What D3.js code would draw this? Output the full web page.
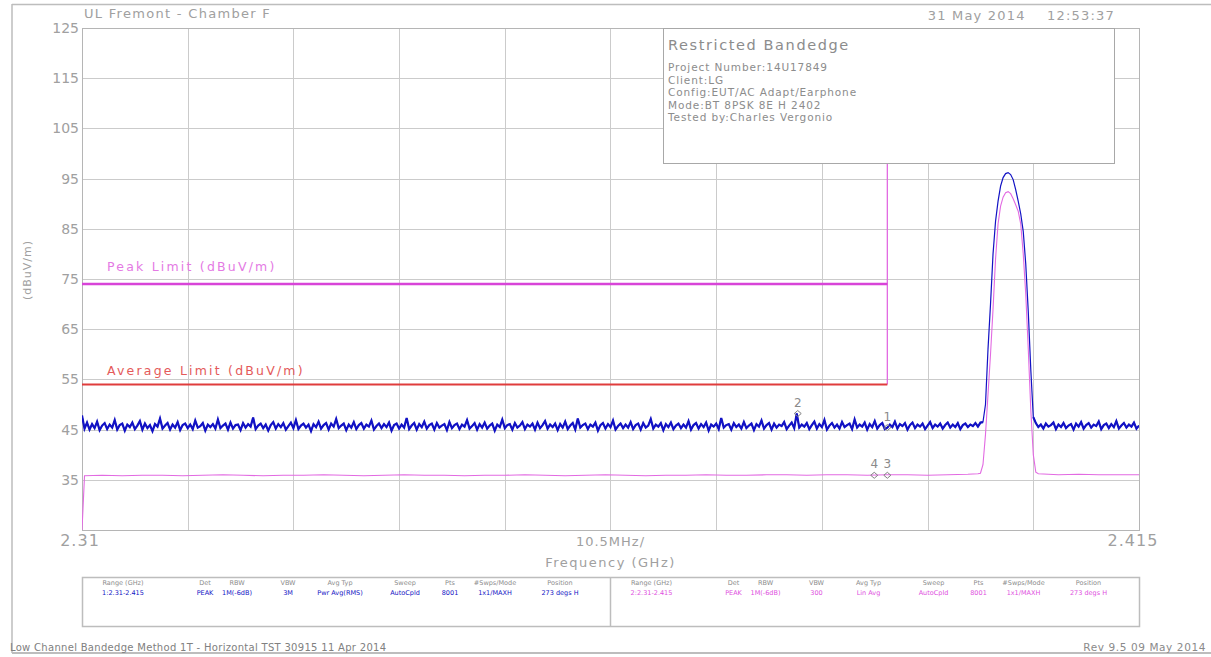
<!DOCTYPE html>
<html><head><meta charset="utf-8">
<script src="https://cdn.jsdelivr.net/npm/d3@7"></script>
<style>body{margin:0;background:#fff;overflow:hidden} text{font-family:"DejaVu Sans",sans-serif}</style>
</head><body><svg id="c" width="1211" height="657"></svg>
<script>
// ---------- data ----------
const fStart = 2.31, fStop = 2.415, fStep = 0.00025;   // peak trace sweep grid (GHz)
const yTicks = [125,115,105,95,85,75,65,55,45,35];
const yGrid = [125,115,105,95,85,75,65,55,45,35,25];
const xGridDivs = [0,1,2,3,4,5,6,7,8,9,10];
const xTickLabels = ["2.31","10.5MHz/","2.415"];
const xTitle = "Frequency (GHz)";
const yTitle = "(dBuV/m)";
const peakVals = [
47.8,45.2,46.4,45.0,46.1,45.3,46.6,44.9,45.8,46.3,45.1,46.0,45.4,46.9,45.0,45.9,46.2,44.8,46.0,45.5,
46.4,45.1,45.8,46.7,45.0,46.2,45.3,45.9,44.7,46.1,45.6,47.2,45.2,45.8,46.3,45.0,46.0,45.4,46.5,44.9,
45.9,46.2,45.3,46.0,45.1,46.8,45.4,45.7,46.3,44.8,46.0,45.5,46.1,45.2,47.0,45.3,45.8,46.2,45.0,46.4,
45.2,45.9,46.0,44.9,46.3,45.4,46.1,45.6,47.4,45.1,45.8,46.2,45.3,46.0,44.8,45.9,46.5,45.2,46.1,45.5,
46.3,45.0,45.7,46.4,45.3,46.9,45.1,45.8,46.2,45.4,46.0,44.7,46.1,45.5,46.6,45.2,45.9,46.3,45.0,46.2,
45.6,47.1,45.3,45.8,46.2,44.9,46.0,45.4,46.5,45.1,45.9,46.3,45.2,46.0,45.6,46.8,45.0,45.7,46.2,45.3,
46.1,45.5,46.4,44.8,45.9,46.2,45.2,46.0,45.4,47.3,45.1,45.8,46.3,45.0,46.1,45.5,46.6,45.2,45.9,46.2,
45.0,46.3,45.4,45.8,46.1,44.9,46.5,45.3,45.9,46.2,45.1,46.0,45.6,46.9,45.2,45.7,46.3,45.0,46.1,45.4,
46.4,45.2,45.8,46.2,44.8,46.0,45.5,47.0,45.3,45.9,46.1,45.0,46.3,45.4,45.8,46.5,45.1,46.0,45.6,46.2,
45.0,46.4,45.3,45.9,46.7,45.2,46.0,45.5,46.2,44.9,46.1,45.4,46.6,45.1,45.8,46.3,45.0,47.2,45.4,45.9,
46.2,45.1,46.0,45.6,46.4,44.8,45.9,46.3,45.2,46.1,45.5,46.8,45.0,45.7,46.2,45.3,46.0,45.4,46.5,45.1,
45.9,46.2,45.0,46.3,45.4,45.8,47.1,45.2,46.0,45.6,46.3,44.9,46.1,45.5,46.4,45.1,45.8,46.2,45.3,46.0,
45.4,46.7,45.0,45.9,46.3,45.2,46.1,45.5,46.4,44.8,46.0,45.6,46.2,45.1,47.3,45.4,45.9,46.1,45.0,46.3,
45.5,46.0,45.2,46.5,45.3,45.8,46.2,44.9,46.1,45.6,46.8,45.2,45.9,46.3,45.0,46.2,45.4,46.0,45.7,46.5,
45.1,45.8,46.4,45.3,48.2,45.4,46.0,45.6,46.3,45.1,45.9,46.6,45.2,46.1,45.5,46.9,45.0,45.8,46.3,45.4,
46.0,45.2,46.5,45.5,45.9,46.2,45.1,47.0,45.4,46.0,45.6,46.4,45.0,46.1,45.5,46.7,45.2,45.9,46.3,45.1,
45.4,46.0,45.5,46.6,45.2,46.1,45.7,46.3,45.0,45.9,46.4,45.3,46.0,45.6,46.2,45.1,45.8,46.5,45.3,46.0,
45.6,46.2,45.2,45.9,46.4,45.4,46.0,45.5,46.3,45.1,45.9,46.2,45.5,46.0,45.7,46.3,45.6,46.4,
46.5,50,61,70,80,86.5,90.5,93.5,95.2,96,96.2,95.8,94.8,92.8,90.5,88,84.5,78,68.5,57,47.5,
46.3,45.5,46.0,45.2,46.2,45.6,45.9,46.4,45.1,46.0,45.5,46.3,45.3,45.8,46.1,45.0,46.2,45.6,46.5,45.2,
45.9,46.3,45.4,46.0,45.7,46.6,45.1,45.9,46.2,45.3,46.1,45.5,46.7,45.2,45.8,46.3,45.4,46.0,45.6,46.4,
45.2,45.8
];
const avgFreqs = [2.31,2.31025,2.312,2.314,2.316,2.318,2.320,2.322,2.324,2.326,2.328,2.330,2.332,2.334,2.336,2.338,
2.340,2.342,2.344,2.346,2.348,2.350,2.352,2.354,2.356,2.358,2.360,2.362,2.364,2.366,2.368,2.370,2.372,2.374,2.376,
2.378,2.380,2.382,2.384,2.386,2.388,2.390,2.392,2.394,2.396,2.398,2.399,2.39925,2.3995,2.39975,2.4,2.40025,2.4005,
2.40075,2.401,2.40125,2.4015,2.40175,2.402,2.40225,2.4025,2.40275,2.403,2.40325,2.4035,2.40375,2.404,2.40425,2.4045,
2.40475,2.405,2.407,2.409,2.411,2.413,2.415];
const avgVals = [25,35.8,35.9,35.8,35.9,35.9,35.8,35.9,36.0,35.9,35.8,35.9,35.9,36.0,35.9,35.8,
35.9,36.0,35.9,35.9,35.8,35.9,35.9,36.0,35.9,35.8,35.9,36.0,35.9,35.8,35.9,35.9,36.0,35.9,35.9,
36.0,36.0,35.9,36.0,36.0,35.9,36.0,36.0,35.9,36.0,36.1,36.2,36.3,38,44,52,60,69,
79,86,89.5,91.3,92.2,92.4,92,91,89.8,88.5,86,80,72,61,49,40,
36.5,36.2,36.0,36.1,36.0,36.0,36.0];
const limitNames = ["Peak Limit (dBuV/m)","Average Limit (dBuV/m)"];
const limitVals = [74,54];
const limitStop = 2.39;
const markerLabels = ["1","2","3","4"];
const markerFreqs = [2.39,2.3811,2.39,2.3887];
const markerVals = [45.4,48.2,35.9,35.9];
const headerLeft = "UL Fremont - Chamber F";
const headerRight = "31 May 2014    12:53:37";
const infoTitle = "Restricted Bandedge";
const infoLines = ["Project Number:14U17849","Client:LG","Config:EUT/AC Adapt/Earphone","Mode:BT 8PSK 8E H 2402","Tested by:Charles Vergonio"];
const tableHeaders = ["Range (GHz)","Det","RBW","VBW","Avg Typ","Sweep","Pts","#Swps/Mode","Position"];
const tableRow1 = ["1:2.31-2.415","PEAK","1M(-6dB)","3M","Pwr Avg(RMS)","AutoCpld","8001","1x1/MAXH","273 degs H"];
const tableRow2 = ["2:2.31-2.415","PEAK","1M(-6dB)","300","Lin Avg","AutoCpld","8001","1x1/MAXH","273 degs H"];
const footLeft = "Low Channel Bandedge Method 1T - Horizontal TST 30915 11 Apr 2014";
const footRight = "Rev 9.5 09 May 2014";

// ---------- drawing ----------
const svg = d3.select("#c");
const L = 82, R = 1139, T = 28, B = 530;
const x = d3.scaleLinear().domain([fStart, fStop]).range([L, R]);
const y = d3.scaleLinear().domain([25, 125]).range([B, T]);
const gridC = "#cbcbcb", txtC = "#a0a0a0";
const BLUE = "#1212c4", PINK = "#e26ae2", MAG = "#d844d8", RED = "#e03c3c";

// outer frame
svg.append("line").attr("x1",12).attr("x2",1211).attr("y1",4.5).attr("y2",4.5).attr("stroke","#bdbdbd").attr("stroke-width",1.5);
svg.append("line").attr("x1",12).attr("x2",12).attr("y1",4).attr("y2",653).attr("stroke","#bdbdbd").attr("stroke-width",1.5);
svg.append("line").attr("x1",12).attr("x2",1211).attr("y1",653).attr("y2",653).attr("stroke","#bdbdbd").attr("stroke-width",2);

// grid
const g = svg.append("g");
g.selectAll(".hg").data(yGrid).join("line")
  .attr("x1",L).attr("x2",R).attr("y1",d=>Math.round(y(d))+0.5).attr("y2",d=>Math.round(y(d))+0.5)
  .attr("stroke",gridC).attr("stroke-width",1);
g.selectAll(".vg").data(xGridDivs).join("line")
  .attr("x1",d=>Math.round(x(fStart+d*(fStop-fStart)/10))+0.5).attr("x2",d=>Math.round(x(fStart+d*(fStop-fStart)/10))+0.5)
  .attr("y1",T).attr("y2",B).attr("stroke",gridC).attr("stroke-width",1);
svg.append("rect").attr("x",L+0.5).attr("y",T+0.5).attr("width",R-L).attr("height",B-T)
  .attr("fill","none").attr("stroke","#b5b5b5");

// y axis labels
const yAxis = d3.axisLeft(y).tickValues(yTicks).tickSize(0).tickPadding(3).tickFormat(d3.format("d"));
const ya = svg.append("g").attr("transform",`translate(${L},0)`).call(yAxis);
ya.select(".domain").remove();
ya.selectAll("text").attr("fill",txtC).style("font-size","14px").style("font-family","DejaVu Sans");
svg.append("text").attr("transform","translate(31,270) rotate(-90)").attr("text-anchor","middle")
  .attr("fill",txtC).style("font-size","11px").style("letter-spacing","1px").text(yTitle);

// x labels
const xlPos = [fStart, (fStart+fStop)/2, fStop];
svg.selectAll(".xl").data(xTickLabels).join("text")
  .attr("x",(d,i)=>x(xlPos[i])+(i===0?-2:i===2?-6:0)).attr("y",546).attr("text-anchor","middle")
  .attr("fill",txtC).style("font-size",(d,i)=>i===1?"13px":"16px").style("letter-spacing","1px").text(d=>d);
svg.append("text").attr("x",x((fStart+fStop)/2)).attr("y",567).attr("text-anchor","middle")
  .attr("fill",txtC).style("font-size","13px").style("letter-spacing","1.5px").text(xTitle);

// header
svg.append("text").attr("x",84).attr("y",18).attr("fill",txtC).style("font-size","13px").style("letter-spacing","1.3px").text(headerLeft);
svg.append("text").attr("x",1115).attr("y",20).attr("text-anchor","end").attr("fill",txtC).style("font-size","13px").style("letter-spacing","1.2px").style("white-space","pre").text(headerRight);

// clip
svg.append("clipPath").attr("id","pc").append("rect").attr("x",L).attr("y",T).attr("width",R-L).attr("height",B-T);
const plot = svg.append("g").attr("clip-path","url(#pc)");

// limit lines
plot.append("line").attr("x1",x(limitStop)).attr("x2",x(limitStop)).attr("y1",T).attr("y2",y(limitVals[1]))
  .attr("stroke",PINK).attr("stroke-width",1.3);
plot.append("line").attr("x1",x(fStart)).attr("x2",x(limitStop)).attr("y1",y(limitVals[0])).attr("y2",y(limitVals[0]))
  .attr("stroke",MAG).attr("stroke-width",2.6);
plot.append("line").attr("x1",x(fStart)).attr("x2",x(limitStop)).attr("y1",y(limitVals[1])).attr("y2",y(limitVals[1]))
  .attr("stroke",RED).attr("stroke-width",2);
svg.append("text").attr("x",107).attr("y",y(limitVals[0])-13).attr("fill","#e47ae4").style("font-size","12.5px").style("letter-spacing","2.2px").text(limitNames[0]);
svg.append("text").attr("x",107).attr("y",y(limitVals[1])-9).attr("fill","#e45a5a").style("font-size","12.5px").style("letter-spacing","2.2px").text(limitNames[1]);

// traces
const avgData = avgFreqs.map((f,i)=>[f,avgVals[i]]);
const peakData = peakVals.map((v,i)=>[fStart+i*fStep, v]);
const line = d3.line().x(d=>x(d[0])).y(d=>y(d[1]));
plot.append("path").datum(avgData).attr("d",line).attr("fill","none").attr("stroke",PINK).attr("stroke-width",1.1);
plot.append("path").datum(peakData).attr("d",line).attr("fill","none").attr("stroke",BLUE).attr("stroke-width",1.2);
// noise floor drawn heavier (dense 8001-point band in the original)
const floorLine = d3.line().defined(d=>d[1]<49).x(d=>x(d[0])).y(d=>y(d[1]));
plot.append("path").datum(peakData).attr("d",floorLine).attr("fill","none").attr("stroke",BLUE).attr("stroke-width",2.2);

// markers
const mk = svg.append("g");
markerLabels.forEach((lab,i)=>{
  const mx = x(markerFreqs[i]), my = y(markerVals[i]);
  mk.append("path").attr("d",`M${mx},${my-3}L${mx+3.5},${my}L${mx},${my+3}L${mx-3.5},${my}Z`)
    .attr("fill","none").attr("stroke","#808080").attr("stroke-width",1);
  mk.append("text").attr("x",mx).attr("y",my-7).attr("text-anchor","middle").attr("fill","#8a8a8a")
    .style("font-size","12px").text(lab);
});

// info box
svg.append("rect").attr("x",663.5).attr("y",28.5).attr("width",451).attr("height",135)
  .attr("fill","#fff").attr("stroke","#a8a8a8");
svg.append("text").attr("x",668).attr("y",50).attr("fill","#8c8c8c").style("font-size","14.5px").style("letter-spacing","1.6px").text(infoTitle);
svg.selectAll(".il").data(infoLines).join("text")
  .attr("x",668).attr("y",(d,i)=>71+i*12.6).attr("fill","#8c8c8c").style("font-size","10.5px").style("letter-spacing","0.9px").text(d=>d);

// settings table
const tb = svg.append("g");
tb.append("rect").attr("x",82.5).attr("y",577.5).attr("width",1057).attr("height",49).attr("fill","none").attr("stroke","#bdbdbd").attr("stroke-width",1.5);
tb.append("line").attr("x1",610.5).attr("x2",610.5).attr("y1",578).attr("y2",626).attr("stroke","#bdbdbd").attr("stroke-width",1.5);
const colOff = [41,123,155,206,258,323,368,413,478];
[[tableRow1,82,BLUE],[tableRow2,610.5,"#e050e0"]].forEach(([row,x0,col])=>{
  tableHeaders.forEach((h,i)=>{
    tb.append("text").attr("x",x0+colOff[i]).attr("y",585).attr("text-anchor","middle").attr("fill","#8c8c8c").style("font-size","6.5px").text(h);
    tb.append("text").attr("x",x0+colOff[i]).attr("y",595).attr("text-anchor","middle").attr("fill",col).style("font-size","6.5px").text(row[i]);
  });
});

// footer
svg.append("text").attr("x",10).attr("y",651).attr("fill","#808080").style("font-size","10px").style("letter-spacing","0.3px").text(footLeft);
svg.append("text").attr("x",1206).attr("y",651).attr("text-anchor","end").attr("fill","#8a8a8a").style("font-size","10.5px").style("letter-spacing","0.6px").text(footRight);
</script></body></html>
